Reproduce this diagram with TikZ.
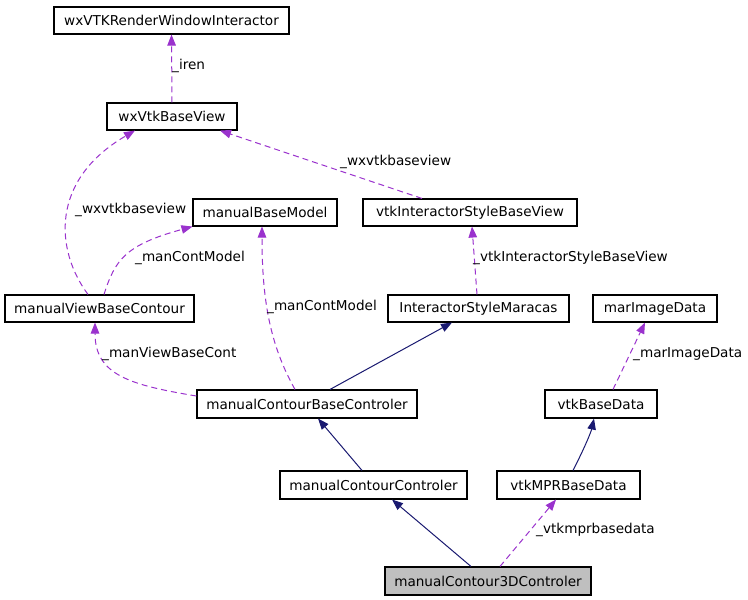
\documentclass[tikz,border=0pt]{standalone}
\usepackage{fontspec}
\setmainfont{DejaVu Sans}
\usetikzlibrary{arrows.meta}
\definecolor{edgepurple}{HTML}{9A32CD}
\definecolor{edgenavy}{HTML}{191970}
\begin{document}
\begin{tikzpicture}[x=1pt, y=-1pt]
\tikzset{ >={Triangle[length=11pt, width=8.5pt]},
  cls/.style={draw, line width=1.1pt, inner sep=0pt, font=\fontsize{13.6}{15}\selectfont},
  usage/.style={->, edgepurple, line width=1pt, dash pattern=on 6pt off 4pt},
  inherit/.style={->, edgenavy, line width=1pt},
  lbl/.style={anchor=west, inner sep=0pt, font=\fontsize{13.6}{15}\selectfont},
}

\useasboundingbox (0,0) rectangle (748,600);

%\draw [lightgray] (0,0) grid[step=50pt] (748,600);

\node [cls, minimum width=235pt, minimum height=27pt] (RWI) at (171.5,20.5) {wxVTKRenderWindowInteractor};
\node [cls, minimum width=130pt, minimum height=27pt] (BV)  at (172,116.5)  {wxVtkBaseView};
\node [cls, minimum width=144pt, minimum height=27pt] (BM)  at (265,212.5)  {manualBaseModel};
\node [cls, minimum width=214pt, minimum height=27pt] (ISBV) at (470,212.5) {vtkInteractorStyleBaseView};
\node [cls, minimum width=189pt, minimum height=27pt] (VBC) at (99.5,308.5) {manualViewBaseContour};
\node [cls, minimum width=181pt, minimum height=27pt] (ISM) at (478.5,308.5) {InteractorStyleMaracas};
\node [cls, minimum width=124pt, minimum height=27pt] (MID) at (655,308.5)  {marImageData};
\node [cls, minimum width=220pt, minimum height=28pt] (CBC) at (307,404)    {manualContourBaseControler};
\node [cls, minimum width=112pt, minimum height=28pt] (VBD) at (601,404)    {vtkBaseData};
\node [cls, minimum width=187pt, minimum height=28pt] (CC)  at (373.5,485)  {manualContourControler};
\node [cls, minimum width=143pt, minimum height=28pt] (MPR) at (568.5,485)  {vtkMPRBaseData};
\node [cls, fill={rgb,255:red,191;green,191;blue,191}, minimum width=206pt, minimum height=28pt] (C3D) at (488,581) {manualContour3DControler};

\draw [usage] (BV.north) -- (RWI.south);
\draw [usage] ([xshift=-11.5pt]VBC.north) .. controls (55,250) and (50,180) .. ([xshift=-37pt]BV.south);
\draw [usage] ([xshift=-48pt]ISBV.north) -- ([xshift=48pt]BV.south);
\draw [usage] ([xshift=4.5pt]VBC.north) .. controls (115,260) and (125,245) .. (BM.south west);
\draw [usage] ([xshift=-12pt]CBC.north) .. controls (270,345) and (262,300) .. ([xshift=-3pt]BM.south);
\draw [usage] ([xshift=-1.5pt]ISM.north) -- ([xshift=2pt]ISBV.south);
\draw [usage] ([yshift=8pt]CBC.west) .. controls (130,385) and (95,375) .. ([xshift=-4.5pt]VBC.south);
\draw [inherit] ([xshift=23pt]CBC.north) -- ([xshift=-26.5pt]ISM.south);
\draw [inherit] ([xshift=-11.5pt]CC.north) -- ([xshift=11pt]CBC.south);
\draw [usage] ([xshift=12pt]VBD.north) -- ([xshift=-10pt]MID.south);
\draw [inherit] ([xshift=4.5pt]MPR.north) .. controls (585,447) and (591,432) .. ([xshift=-7pt]VBD.south);
\draw [inherit] ([xshift=-17pt]C3D.north) -- ([xshift=18.5pt]CC.south);
\draw [usage] ([xshift=12pt]C3D.north) -- ([xshift=-12.5pt]MPR.south);

\node [lbl] (l1) at (172,66)  {\_iren};
\node [lbl] (l2) at (75,210)  {\_wxvtkbaseview};
\node [lbl] (l3) at (340,162) {\_wxvtkbaseview};
\node [lbl] (l4) at (135,258) {\_manContModel};
\node [lbl] (l5) at (267,307) {\_manContModel};
\node [lbl] (l6) at (473,258) {\_vtkInteractorStyleBaseView};
\node [lbl] (l7) at (102,354) {\_manViewBaseCont};
\node [lbl] (l8) at (633,354) {\_marImageData};
\node [lbl] (l9) at (536,530) {\_vtkmprbasedata};

\end{tikzpicture}
\end{document}
